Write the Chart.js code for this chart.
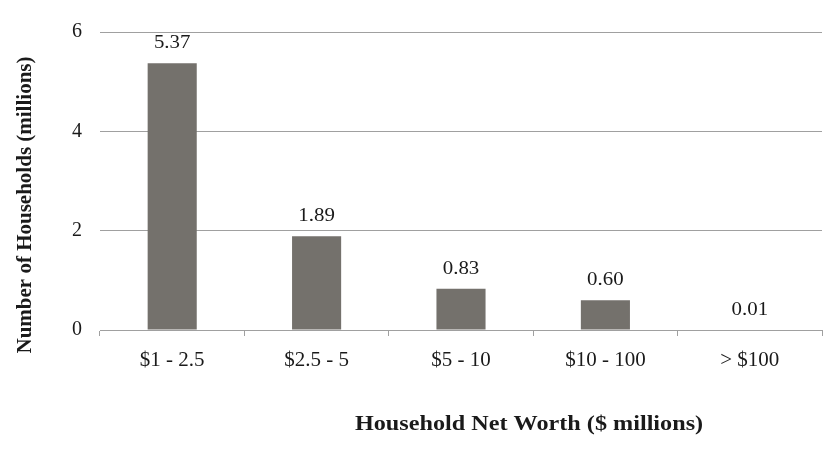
<!DOCTYPE html>
<html>
<head>
<meta charset="utf-8">
<script src="https://cdn.jsdelivr.net/npm/chart.js@4"></script>
<style>
  body { margin: 0; background: #fff; }
  #wrap { width: 834px; height: 450px; }
</style>
</head>
<body>
<div id="wrap"><canvas id="chart" width="834" height="450"></canvas></div>
<script>
// ---------------- DATA ----------------
const categories = ["$1 - 2.5", "$2.5 - 5", "$5 - 10", "$10 - 100", "> $100"];
const households = [5.37, 1.89, 0.83, 0.60, 0.01];
const yTicks = [0, 2, 4, 6];

const xTitle = "Household Net Worth ($ millions)";
const yTitle = "Number of Households (millions)";

const SERIF = "'Liberation Serif', 'Times New Roman', serif";

// ---------------- LABELS + AXIS TITLES ----------------
// text in the source looks a bit wide, so stretch it slightly
const STRETCH = 1.1;

const extras = {
  id: "extras",
  afterDatasetsDraw(c) {
    const ctx = c.ctx;
    const meta = c.getDatasetMeta(0);
    ctx.save();
    ctx.fillStyle = "#1a1a1a";
    ctx.textAlign = "center";
    ctx.textBaseline = "alphabetic";
    ctx.font = "19px " + SERIF;
    meta.data.forEach((bar, i) => {
      ctx.save();
      ctx.translate(bar.x, bar.y - 15);
      ctx.scale(STRETCH, 1);
      ctx.fillText(households[i].toFixed(2), 0, 0);
      ctx.restore();
    });

    // x title
    ctx.save();
    ctx.font = "bold 22px " + SERIF;
    ctx.textBaseline = "middle";
    ctx.translate(529, 424);
    ctx.scale(STRETCH, 1);
    ctx.fillText(xTitle, 0, 0);
    ctx.restore();

    // y title
    ctx.save();
    ctx.font = "bold 21px " + SERIF;
    ctx.textBaseline = "middle";
    ctx.translate(26, 205);
    ctx.rotate(-Math.PI / 2);
    ctx.fillText(yTitle, 0, 0);
    ctx.restore();

    ctx.restore();
  }
};

chart = new Chart(document.getElementById("chart"), {
  type: "bar",
  data: {
    labels: categories,
    datasets: [{
      data: households,
      backgroundColor: "#74716c",
      barPercentage: 0.34,
      categoryPercentage: 1
    }]
  },
  options: {
    responsive: false,
    animation: false,
    layout: { padding: { top: 32, right: 12, left: 0, bottom: 0 } },
    plugins: {
      legend: { display: false },
      tooltip: { enabled: false }
    },
    scales: {
      x: {
        afterFit(s) { s.height = 120; },
        grid: { drawOnChartArea: false, drawTicks: true, tickLength: 6, color: "#a0a0a0", offset: true },
        border: { display: true, color: "#a0a0a0" },
        ticks: { color: "#1a1a1a", font: { family: SERIF, size: 21 }, padding: 12 }
      },
      y: {
        min: 0,
        max: 6,
        afterFit(s) { s.width = 100; },
        afterBuildTicks(s) { s.ticks = yTicks.map(v => ({ value: v })); },
        grid: { color: "#a0a0a0", drawTicks: false },
        border: { display: false },
        ticks: { color: "#1a1a1a", font: { family: SERIF, size: 20 }, padding: 18 }
      }
    }
  },
  plugins: [extras]
});
</script>
</body>
</html>
